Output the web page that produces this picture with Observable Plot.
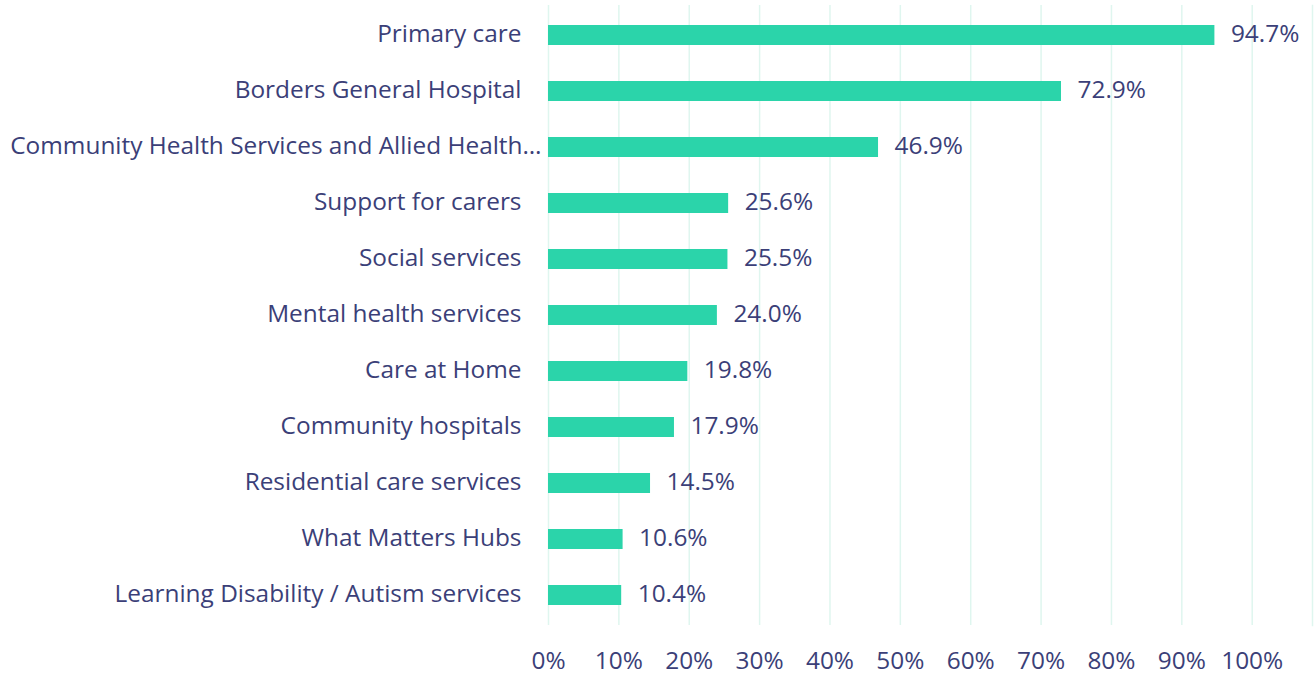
<!DOCTYPE html>
<html><head><meta charset="utf-8">
<script src="https://cdn.jsdelivr.net/npm/d3@7"></script>
<script src="https://cdn.jsdelivr.net/npm/@observablehq/plot@0.6"></script>
<style>
html,body{margin:0;padding:0;background:#fff;}
svg{display:block;}
</style></head>
<body><div id="chart"></div>
<script>
const categories = [
  "Primary care",
  "Borders General Hospital",
  "Community Health Services and Allied Health…",
  "Support for carers",
  "Social services",
  "Mental health services",
  "Care at Home",
  "Community hospitals",
  "Residential care services",
  "What Matters Hubs",
  "Learning Disability / Autism services"
];
const values = [94.7, 72.9, 46.9, 25.6, 25.5, 24.0, 19.8, 17.9, 14.5, 10.6, 10.4];
const tickValues = [0, 10, 20, 30, 40, 50, 60, 70, 80, 90, 100];

const data = categories.map((c, i) => ({category: c, value: values[i]}));
const textColor = "#3b3f78";
const font = "'Open Sans', Lato, sans-serif";
const fs = 24.4;
const truncated = d => d.category.endsWith("…");

const chart = Plot.plot({
  width: 1316,
  height: 677,
  marginLeft: 548,
  marginRight: 4,
  marginTop: 5,
  marginBottom: 52,
  style: {fontFamily: font, color: textColor, background: "#fff", overflow: "visible"},
  x: {domain: [0, 108.57], axis: null},
  y: {domain: categories, paddingInner: 0.645, paddingOuter: 0.3225, axis: null},
  marks: [
    Plot.ruleX(tickValues, {stroke: "#dff6ef", strokeWidth: 1.5}),
    Plot.frame({anchor: "right", stroke: "#dff6ef", strokeWidth: 1.5}),
    Plot.barX(data, {y: "category", x: "value", fill: "#2bd4aa"}),
    Plot.text(data, {y: "category", x: "value", text: d => d.value.toFixed(1) + "%", textAnchor: "start", dx: 16, dy: -1, fontSize: fs, fill: textColor}),
    Plot.text(data, {filter: d => !truncated(d), y: "category", x: 0, text: "category", textAnchor: "end", dx: -27, dy: -1, fontSize: fs, fill: textColor}),
    Plot.text(data, {filter: truncated, y: "category", x: 0, text: "category", textAnchor: "end", dx: -7, dy: -1, fontSize: fs, fill: textColor}),
    Plot.axisX({ticks: tickValues, tickSize: 0, tickPadding: 26, fontSize: fs, label: null, tickFormat: d => d + "%", fill: textColor})
  ]
});
document.getElementById("chart").appendChild(chart);
</script>
</body></html>
